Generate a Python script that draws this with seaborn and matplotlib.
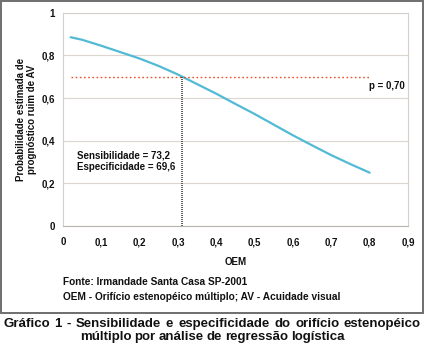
import matplotlib
matplotlib.use("Agg")
import matplotlib.pyplot as plt
import seaborn as sns
import pandas as pd
from matplotlib.patches import Rectangle
from matplotlib import font_manager

# ---- data ----
oem = [0.02, 0.05, 0.10, 0.15, 0.20, 0.25, 0.30, 0.35, 0.40, 0.45, 0.50,
       0.55, 0.60, 0.65, 0.70, 0.75, 0.80]
prob = [0.885, 0.873, 0.845, 0.815, 0.785, 0.750, 0.710, 0.665, 0.620,
        0.572, 0.525, 0.475, 0.425, 0.378, 0.332, 0.290, 0.250]
cutoff_p = 0.70
cutoff_x = 0.31
hline_x = [0.02, 0.80]
xticks = [0, 0.1, 0.2, 0.3, 0.4, 0.5, 0.6, 0.7, 0.8, 0.9]
xticklabels = ["0", "0,1", "0,2", "0,3", "0,4", "0,5", "0,6", "0,7", "0,8", "0,9"]
yticks = [0, 0.2, 0.4, 0.6, 0.8, 1.0]
yticklabels = ["0", "0,2", "0,4", "0,6", "0,8", "1"]

sns.set_theme(style="white")
names = {f.name for f in font_manager.fontManager.ttflist}
narrow = "Liberation Sans Narrow" if "Liberation Sans Narrow" in names else "Liberation Sans"
plt.rcParams["font.family"] = [narrow, "DejaVu Sans"]
wide = ["Liberation Sans", "DejaVu Sans"]

W, H = 425, 343
fig = plt.figure(figsize=(W / 100, H / 100), dpi=100)
fig.patch.set_facecolor("white")

def fx(px):
    return px / W

def fy(py):
    return 1 - py / H

ax = fig.add_axes([fx(63), fy(226), fx(408) - fx(63), fy(12.7) - fy(226)])

df = pd.DataFrame({"OEM": oem, "p": prob})
sns.lineplot(data=df, x="OEM", y="p", ax=ax, color="#52bad5", linewidth=1.6)

ax.plot(hline_x, [cutoff_p, cutoff_p], color="#e8532c", linestyle=(0, (1.2, 1.8)),
        linewidth=1.0)
ax.plot([cutoff_x, cutoff_x], [0, cutoff_p], color="#444444", linestyle=(0, (0.6, 0.6)),
        linewidth=1.2)

ax.set_xlim(0, 0.9)
ax.set_ylim(0, 1)
ax.set_xticks(xticks)
ax.set_xticklabels(xticklabels)
ax.set_yticks(yticks)
ax.set_yticklabels(yticklabels)
ax.yaxis.grid(True, color="#dcd6cf", linewidth=0.8)
ax.xaxis.grid(False)
for s in ["left", "right", "top"]:
    ax.spines[s].set_color("#d5d0ca")
    ax.spines[s].set_linewidth(0.8)
ax.spines["bottom"].set_color("#b8b4ae")
ax.spines["bottom"].set_linewidth(0.8)
ax.tick_params(axis="both", which="major", length=3, width=0.7, color="#b8b4ae",
               labelsize=7, pad=3)
ax.tick_params(axis="x", pad=5)
for lab in ax.get_xticklabels() + ax.get_yticklabels():
    lab.set_fontweight("bold")
    lab.set_color("#111111")

ax.set_xlabel("OEM", fontsize=7, fontweight="bold", color="#111111", labelpad=7)
ax.set_ylabel("Probabilidade estimada de\nprognóstico ruim de AV", fontsize=7,
              fontweight="bold", color="#111111", labelpad=3, linespacing=1.1)

ax.text(0.80 - 0.003, 0.655, "p = 0,70", fontsize=7, fontweight="bold",
        color="#111111", ha="left", va="center")
ax.text(0.036, 0.330, "Sensibilidade = 73,2", fontsize=7, fontweight="bold",
        color="#111111", ha="left", va="center", family=wide)
ax.text(0.036, 0.277, "Especificidade = 69,6", fontsize=7, fontweight="bold",
        color="#111111", ha="left", va="center", family=wide)

fig.text(fx(63), fy(282), "Fonte: Irmandade Santa Casa SP-2001", fontsize=7.25,
         fontweight="bold", color="#111111", ha="left", va="center")
fig.text(fx(63), fy(297), "OEM - Orifício estenopéico múltiplo; AV - Acuidade visual",
         fontsize=7.25, fontweight="bold", color="#111111", ha="left", va="center")

# frame
fig.patches.append(Rectangle((fx(1), fy(313)), fx(423) - fx(1), fy(1) - fy(313),
                             transform=fig.transFigure, fill=False,
                             edgecolor="#6e6e6e", linewidth=1.4))

# caption (justified first line)
cap1 = "Gráfico 1 - Sensibilidade e especificidade do orifício estenopéico".split(" ")
cap2 = "múltiplo por análise de regressão logística".split(" ")
capfont = dict(fontsize=9.5, fontweight="bold", color="#111111", family=wide)
fig.canvas.draw()
r = fig.canvas.get_renderer()

def place_words(words, y, left, right):
    texts = [fig.text(0, fy(y), w, ha="left", va="center", **capfont) for w in words]
    widths = [t.get_window_extent(r).width for t in texts]
    gap = (right - left - sum(widths)) / (len(widths) - 1)
    x = left
    for t, w in zip(texts, widths):
        t.set_x(fx(x))
        x += w + gap

place_words(cap1, 324, 3, 421)
place_words(cap2, 337, 80, 345)

fig.savefig("out.png", dpi=100, facecolor="white")
